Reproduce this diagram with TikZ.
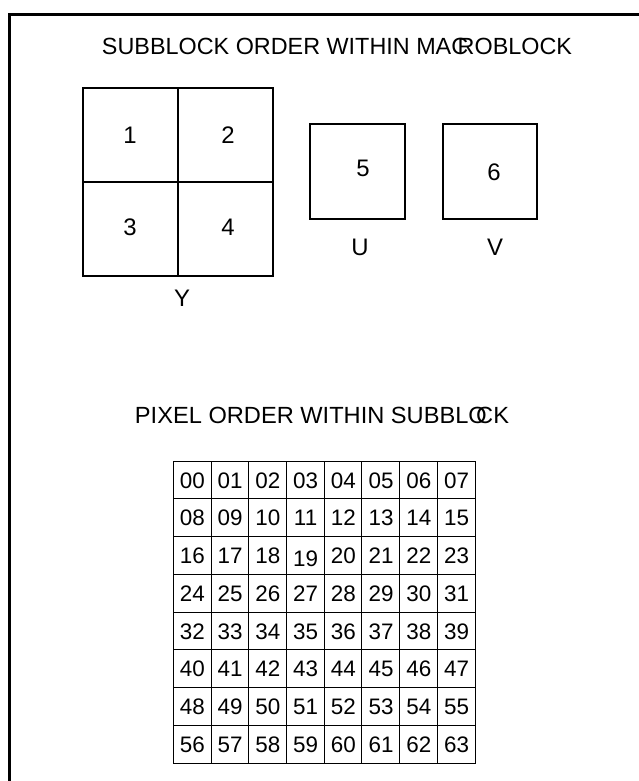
\documentclass[tikz,border=0pt]{standalone}
\usepackage{fontspec}
\usepackage{graphicx}
\setmainfont{Liberation Sans}
\begin{document}
\begin{tikzpicture}[x=1bp,y=-1bp,
  frameline/.style={line width=3bp},
  sq/.style={draw, line width=1.3bp, inner sep=0pt},
  gridline/.style={line width=1.6bp},
  cell/.style={inner sep=0pt, minimum width=37.75bp, minimum height=37.75bp},
  digits/.style={inner sep=0pt, font=\fontsize{22.5}{22.5}\selectfont},
  num/.style={inner sep=0pt, font=\fontsize{24}{24}\selectfont},
  heading/.style={inner sep=0pt, font=\fontsize{23.5}{23.5}\selectfont}]
\useasboundingbox (0,0) rectangle (639,781);
\fill[white] (0,0) rectangle (639,781);

% outer frame (open to the right and bottom)
\draw[frameline] (9.5,781) -- (9.5,14.5) -- (639,14.5);

% macroblock heading
\node[heading] (t1) at (337,46)
  {\resizebox{470bp}{\height}{SUBBLOCK ORDER WITHIN MAC\kern-0.45em ROBLOCK}};

% Y: four luminance subblocks
\node[sq, minimum width=95bp, minimum height=94bp] (y1) at (130.5,135) {};
\node[sq, minimum width=95bp, minimum height=94bp] (y2) at (225.5,135) {};
\node[sq, minimum width=95bp, minimum height=94bp] (y3) at (130.5,229) {};
\node[sq, minimum width=95bp, minimum height=94bp] (y4) at (225.5,229) {};
\node[num] (n1) at (130,135) {1};
\node[num] (n2) at (228,135) {2};
\node[num] (n3) at (130,227) {3};
\node[num] (n4) at (228,227) {4};
\node[num] (ly) at (182,298) {Y};

% U and V chrominance subblocks
\node[sq, minimum width=95bp, minimum height=95bp] (u) at (357.5,171.5) {};
\node[sq, minimum width=94bp, minimum height=95bp] (v) at (490,171.5) {};
\node[num] (n5) at (363,168) {5};
\node[num] (n6) at (494,172) {6};
\node[num] (lu) at (360,247) {U};
\node[num] (lv) at (495,247) {V};

% pixel heading
\node[heading] (t2) at (322,415)
  {\resizebox{374bp}{\height}{PIXEL ORDER WITHIN SUBBLO\kern-0.45em CK}};

% 8x8 pixel grid: ruled lines, then one named cell per pixel
\foreach \gx in {173.5,211.5,248.5,286.5,324.5,361.5,399.5,437.5,475.5}
  \draw[gridline] (\gx,461) -- (\gx,763.5);
\foreach \gy in {461.5,498.5,536.5,574.5,612.5,649.5,687.5,725.5,763.5}
  \draw[gridline] (173,\gy) -- (476,\gy);
\foreach \r in {0,...,7} {
  \foreach \c in {0,...,7} {
    \pgfmathtruncatemacro\n{8*\r+\c}
    \node[cell] (p\n) at ({173.5+37.75*(\c+0.5)},{461.5+37.75*(\r+0.5)}) {};
    \node[digits] (q\n)
      at ([yshift={\n==19 ? -3 : 0}]p\n.center) {\ifnum\n<10 0\fi\n};
  }
}
\end{tikzpicture}
\end{document}
